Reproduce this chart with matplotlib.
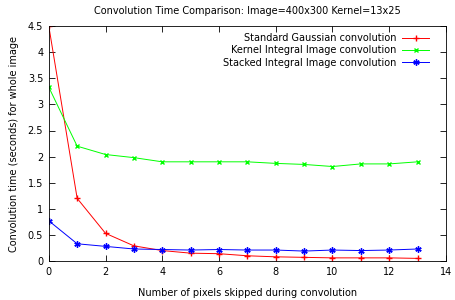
import matplotlib
matplotlib.use('Agg')
import matplotlib.pyplot as plt

# datos
pixeles = list(range(14))
gauss = [4.5, 1.2, 0.53, 0.29, 0.2, 0.15, 0.14, 0.1, 0.08, 0.07, 0.06, 0.06, 0.06, 0.05]
kernel_integral = [3.33, 2.2, 2.04, 1.98, 1.9, 1.9, 1.9, 1.9, 1.87, 1.85, 1.81, 1.86, 1.86, 1.9]
stacked_integral = [0.77, 0.33, 0.28, 0.23, 0.22, 0.21, 0.22, 0.21, 0.21, 0.19, 0.21, 0.2, 0.21, 0.23]

plt.rcParams['font.family'] = ['DejaVu Sans']
plt.rcParams['font.size'] = 7

fig = plt.figure(figsize=(4.56, 3.0), dpi=100)
ax = fig.add_axes([0.107, 0.13, 0.871, 0.783])

ax.plot(pixeles, gauss, color='#ff0000', marker='+', markersize=4, linewidth=0.7,
        label='Standard Gaussian convolution')
ax.plot(pixeles, kernel_integral, color='#00ff00', marker='x', markersize=3.5, linewidth=0.7,
        label='Kernel Integral Image convolution')
ax.plot(pixeles, stacked_integral, color='#0000ff', marker=(6, 2, 0), markersize=4.5, linewidth=0.7,
        label='Stacked Integral Image convolution')

ax.set_xlim(0, 14)
ax.set_ylim(0, 4.5)
ax.set_xticks(range(0, 15, 2))
ax.set_yticks([0, 0.5, 1, 1.5, 2, 2.5, 3, 3.5, 4, 4.5])
ax.set_yticklabels(['0', '0.5', '1', '1.5', '2', '2.5', '3', '3.5', '4', '4.5'])
ax.tick_params(direction='in', top=True, right=True, length=4, width=0.6, pad=4)
for s in ax.spines.values():
    s.set_linewidth(0.6)

ax.set_title('Convolution Time Comparison: Image=400x300 Kernel=13x25', fontsize=7, pad=9)
ax.set_xlabel('Number of pixels skipped during convolution', fontsize=7, labelpad=8)
ax.set_ylabel('Convolution time (seconds) for whole image', fontsize=7, labelpad=6)

ax.legend(loc='upper right', frameon=False, markerfirst=False, fontsize=7,
          handlelength=2.8, labelspacing=0.25, borderaxespad=0.3, handletextpad=0.6,
          bbox_to_anchor=(0.975, 1.0))

fig.savefig('out.png', dpi=100)
